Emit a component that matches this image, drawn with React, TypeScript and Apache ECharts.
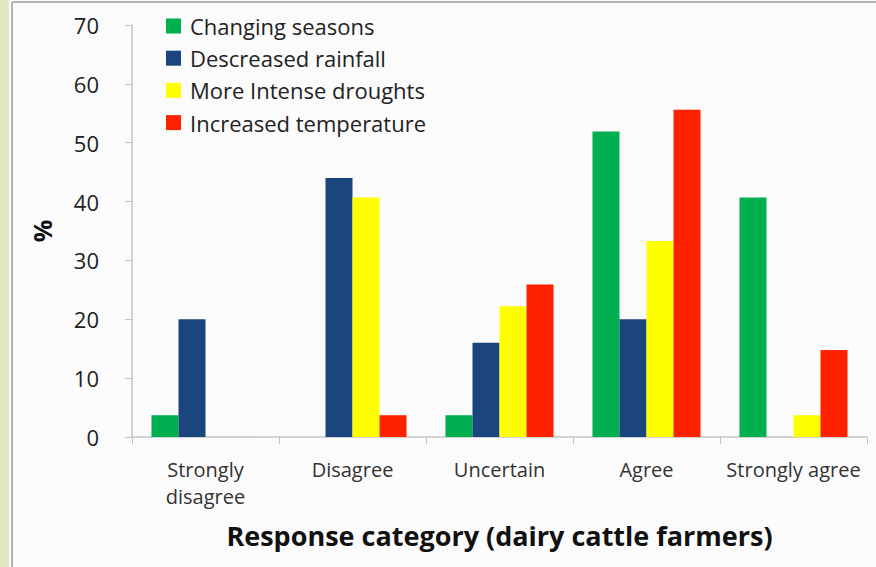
import React, { useEffect, useRef } from "react";
import * as echarts from "echarts";

const categories = ["Strongly\ndisagree", "Disagree", "Uncertain", "Agree", "Strongly agree"];
const seriesNames = ["Changing seasons", "Descreased rainfall", "More Intense droughts", "Increased temperature"];
const changingSeasons = [3.7, 0, 3.7, 51.9, 40.7];
const decreasedRainfall = [20, 44, 16, 20, 0];
const intenseDroughts = [0, 40.7, 22.2, 33.3, 3.7];
const increasedTemperature = [0, 3.7, 25.9, 55.6, 14.8];
const yTicks = { min: 0, max: 70, interval: 10 };

const colors = ["#00b050", "#1b457d", "#ffff00", "#ff2200"];
const FONT = "'Open Sans', sans-serif";

export default function App() {
  const ref = useRef<HTMLDivElement>(null);
  useEffect(() => {
    document.body.style.margin = "0";
    const chart = echarts.init(ref.current!, null, { renderer: "svg" });
    const values = [changingSeasons, decreasedRainfall, intenseDroughts, increasedTemperature];
    chart.setOption({
      animation: false,
      backgroundColor: "#fbfbfb",
      textStyle: { fontFamily: FONT },
      graphic: [
        { type: "rect", shape: { x: 0, y: 0, width: 9, height: 567 }, style: { fill: "#dde8c3" }, silent: true },
        { type: "line", shape: { x1: 12, y1: 2, x2: 12, y2: 567 }, style: { stroke: "#b4b4b4", lineWidth: 2 }, silent: true },
        { type: "line", shape: { x1: 12, y1: 2, x2: 876, y2: 2 }, style: { stroke: "#b4b4b4", lineWidth: 2 }, silent: true },
      ],
      legend: {
        orient: "vertical",
        left: 161,
        top: 10,
        padding: 5,
        itemWidth: 15,
        itemHeight: 15,
        itemGap: 10.2,
        icon: "rect",
        data: seriesNames,
        textStyle: { fontSize: 22, color: "#222", fontFamily: FONT, padding: [0, 0, 0, 4], lineHeight: 22 },
      },
      grid: { left: 132, right: 9, top: 25, bottom: 130, containLabel: false },
      xAxis: {
        type: "category",
        data: categories,
        axisLine: { lineStyle: { color: "#c4c4c4", width: 1.5 } },
        axisTick: { show: true, length: 7, lineStyle: { color: "#c4c4c4" } },
        axisLabel: { fontSize: 20, color: "#333", margin: 19, lineHeight: 27, fontFamily: FONT, interval: 0 },
        name: "Response category (dairy cattle farmers)",
        nameLocation: "middle",
        nameGap: 85,
        nameTextStyle: { fontSize: 27, fontWeight: "bold", color: "#111", fontFamily: FONT },
      },
      yAxis: {
        type: "value",
        min: yTicks.min,
        max: yTicks.max,
        interval: yTicks.interval,
        axisLine: { show: true, lineStyle: { color: "#c4c4c4", width: 1.5 } },
        axisTick: { show: true, length: 7, lineStyle: { color: "#c4c4c4" } },
        splitLine: { show: false },
        axisLabel: { fontSize: 22, color: "#222", margin: 33, fontFamily: FONT },
        name: "%",
        nameLocation: "middle",
        nameGap: 78,
        nameRotate: 90,
        nameTextStyle: { fontSize: 25, fontWeight: "bold", color: "#111", fontFamily: FONT },
      },
      series: seriesNames.map((n, i) => ({
        name: n,
        type: "bar",
        data: values[i],
        barGap: "0%",
        barCategoryGap: "26.5%",
        itemStyle: { color: colors[i] },
      })),
    });
    return () => chart.dispose();
  }, []);
  return <div ref={ref} style={{ position: "absolute", left: 0, top: 0, width: 876, height: 567 }} />;
}
